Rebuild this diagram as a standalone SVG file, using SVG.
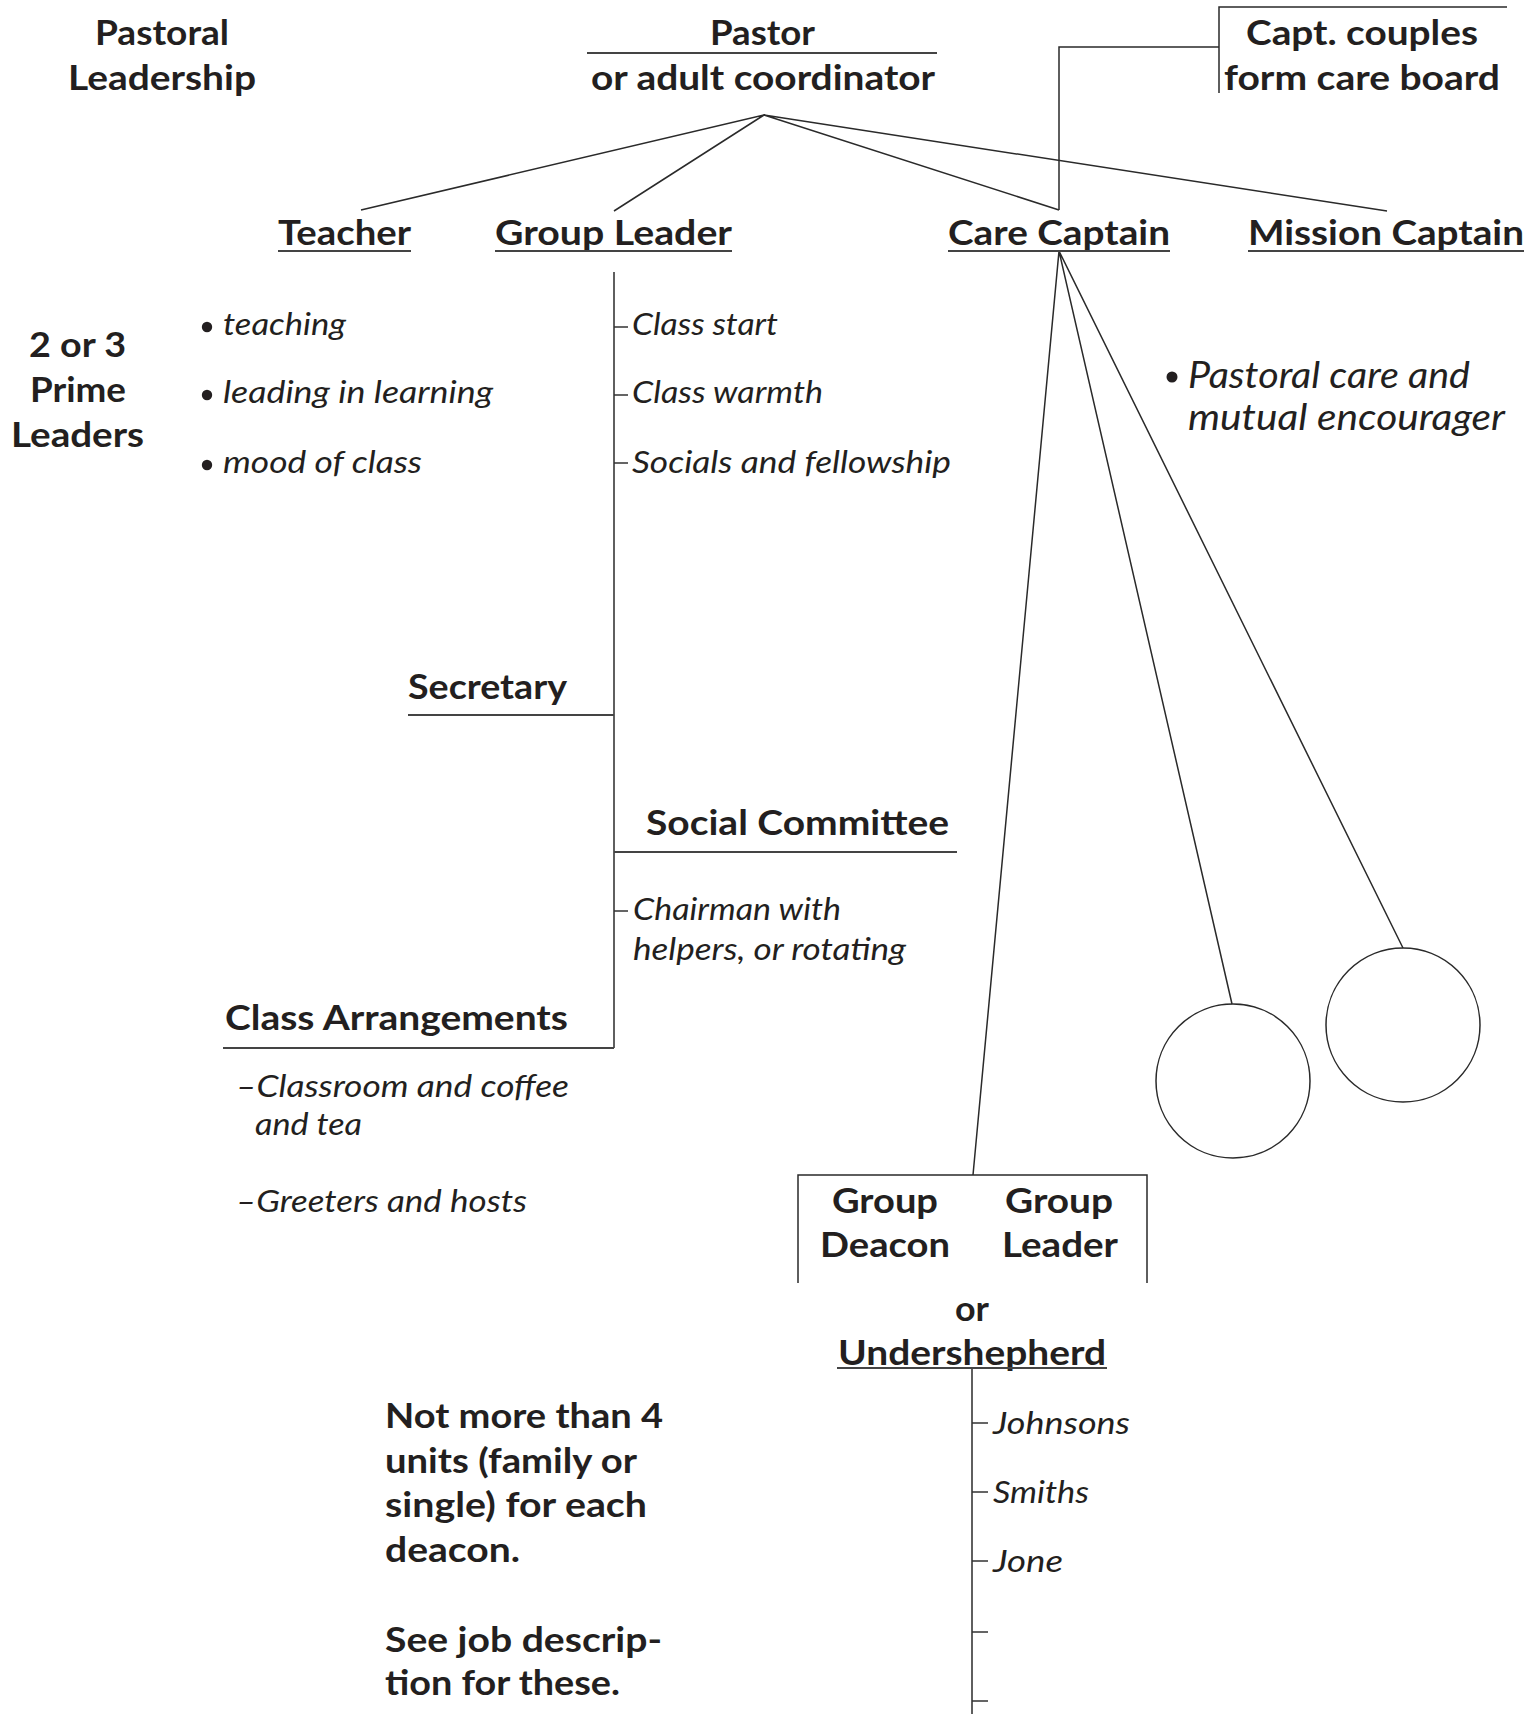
<svg xmlns="http://www.w3.org/2000/svg" width="1530" height="1714" viewBox="0 0 1530 1714">
<style>
text{fill:#231f20;font-family:Lato,"Open Sans","Noto Sans",sans-serif}
.b{font-weight:700;font-size:34px}
.bm{font-weight:700;font-size:34px}
.i{font-style:italic;font-weight:400;font-size:31px}
.il{font-style:italic;font-weight:400;font-size:36px}
.c{text-anchor:middle}
.ln{stroke:#2a2a2a;stroke-width:1.5;fill:none}
.ul{stroke:#444;stroke-width:2;fill:none}
.tk{stroke:#333;stroke-width:1.5}
.dot{fill:#231f20}
</style>
<rect width="1530" height="1714" fill="#fff"/>
<g id="connectors">
<path class="ln" d="M764,115 L361,210 M764,115 L614,211 M764,115 L1059,210 M764,115 L1387,211"/>
<path class="ln" d="M1059,210 V47 H1219 M1219,93 V7 H1507"/>
<path class="ln" d="M1059,251 L973,1175 M1059,251 L1232,1004 M1059,251 L1403,948"/>
<path class="ln" d="M614,272 V1048"/>
<path class="ln" d="M972,1368 V1714"/>
<path class="tk" d="M614,327 H628 M614,395 H628 M614,463 H628 M614,911 H628"/>
<path class="tk" d="M972,1423 H988 M972,1492 H988 M972,1561 H988 M972,1632 H988 M972,1701 H988"/>
</g>
<g id="pastoral-leadership">
<text class="b" x="95" y="45" textLength="134" lengthAdjust="spacingAndGlyphs">Pastoral</text>
<text class="b" x="68" y="90" textLength="188" lengthAdjust="spacingAndGlyphs">Leadership</text>
</g>
<g id="pastor">
<text class="b" x="710" y="45" textLength="105" lengthAdjust="spacingAndGlyphs">Pastor</text>
<line class="ul" x1="587" y1="53" x2="937" y2="53"/>
<text class="b" x="591" y="90" textLength="344" lengthAdjust="spacingAndGlyphs">or adult coordinator</text>
</g>
<g id="care-board">
<text class="b" x="1246" y="45" textLength="232" lengthAdjust="spacingAndGlyphs">Capt. couples</text>
<text class="b" x="1224" y="90" textLength="276" lengthAdjust="spacingAndGlyphs">form care board</text>
</g>
<g id="teacher">
<text class="b" x="278" y="245" textLength="133" lengthAdjust="spacingAndGlyphs">Teacher</text>
<line class="ul" x1="278" y1="251" x2="411" y2="251"/>
<circle class="dot" cx="207" cy="327" r="5.2"/>
<text class="i" x="223" y="335" textLength="123" lengthAdjust="spacingAndGlyphs">teaching</text>
<circle class="dot" cx="207" cy="395" r="5.2"/>
<text class="i" x="223" y="403" textLength="270" lengthAdjust="spacingAndGlyphs">leading in learning</text>
<circle class="dot" cx="207" cy="465" r="5.2"/>
<text class="i" x="223" y="473" textLength="199" lengthAdjust="spacingAndGlyphs">mood of class</text>
</g>
<g id="prime-leaders">
<text class="b" x="29" y="357" textLength="97" lengthAdjust="spacingAndGlyphs">2 or 3</text>
<text class="b" x="30" y="402" textLength="96" lengthAdjust="spacingAndGlyphs">Prime</text>
<text class="b" x="11" y="447" textLength="133" lengthAdjust="spacingAndGlyphs">Leaders</text>
</g>
<g id="group-leader">
<text class="b" x="495" y="245" textLength="237" lengthAdjust="spacingAndGlyphs">Group Leader</text>
<line class="ul" x1="495" y1="251" x2="732" y2="251"/>
<text class="i" x="632" y="335" textLength="146" lengthAdjust="spacingAndGlyphs">Class start</text>
<text class="i" x="632" y="403" textLength="191" lengthAdjust="spacingAndGlyphs">Class warmth</text>
<text class="i" x="632" y="473" textLength="319" lengthAdjust="spacingAndGlyphs">Socials and fellowship</text>
</g>
<g id="care-captain">
<text class="b" x="948" y="245" textLength="222" lengthAdjust="spacingAndGlyphs">Care Captain</text>
<line class="ul" x1="948" y1="251" x2="1170" y2="251"/>
<circle class="dot" cx="1172" cy="377" r="5.5"/>
<text class="il" x="1188" y="388" textLength="282" lengthAdjust="spacingAndGlyphs">Pastoral care and</text>
<text class="il" x="1188" y="430" textLength="317" lengthAdjust="spacingAndGlyphs">mutual encourager</text>
</g>
<g id="mission-captain">
<text class="b" x="1248" y="245" textLength="276" lengthAdjust="spacingAndGlyphs">Mission Captain</text>
<line class="ul" x1="1248" y1="251" x2="1524" y2="251"/>
</g>
<g id="secretary">
<text class="b" x="408" y="699" textLength="159" lengthAdjust="spacingAndGlyphs">Secretary</text>
<line class="ul" x1="408" y1="715" x2="614" y2="715"/>
</g>
<g id="social-committee">
<text class="b" x="646" y="835" textLength="303" lengthAdjust="spacingAndGlyphs">Social Committee</text>
<line class="ul" x1="614" y1="852" x2="957" y2="852"/>
<text class="i" x="633" y="920" textLength="208" lengthAdjust="spacingAndGlyphs">Chairman with</text>
<text class="i" x="633" y="960" textLength="273" lengthAdjust="spacingAndGlyphs">helpers, or rotating</text>
</g>
<g id="class-arrangements">
<text class="b" x="225" y="1030" textLength="343" lengthAdjust="spacingAndGlyphs">Class Arrangements</text>
<line class="ul" x1="223" y1="1048" x2="614" y2="1048"/>
<text class="i" x="236" y="1097" textLength="333" lengthAdjust="spacingAndGlyphs">–Classroom and coffee</text>
<text class="i" x="255" y="1135" textLength="107" lengthAdjust="spacingAndGlyphs">and tea</text>
<text class="i" x="236" y="1212" textLength="291" lengthAdjust="spacingAndGlyphs">–Greeters and hosts</text>
</g>
<g id="circle-1"><circle class="ln" cx="1233" cy="1081" r="77"/></g>
<g id="circle-2"><circle class="ln" cx="1403" cy="1025" r="77"/></g>
<g id="group-deacon-leader">
<path class="ln" d="M798,1283 V1175 H1147 V1283"/>
<text class="bm" x="832" y="1213" textLength="106" lengthAdjust="spacingAndGlyphs">Group</text>
<text class="bm" x="820" y="1257" textLength="130" lengthAdjust="spacingAndGlyphs">Deacon</text>
<text class="bm" x="1005" y="1213" textLength="108" lengthAdjust="spacingAndGlyphs">Group</text>
<text class="bm" x="1002" y="1257" textLength="116" lengthAdjust="spacingAndGlyphs">Leader</text>
<text class="bm" x="955" y="1321" textLength="34" lengthAdjust="spacingAndGlyphs">or</text>
<text class="bm" x="838" y="1365" textLength="268" lengthAdjust="spacingAndGlyphs">Undershepherd</text>
<line class="ul" x1="837" y1="1368" x2="1107" y2="1368"/>
</g>
<g id="families">
<text class="i" x="993" y="1434" textLength="137" lengthAdjust="spacingAndGlyphs">Johnsons</text>
<text class="i" x="993" y="1503" textLength="96" lengthAdjust="spacingAndGlyphs">Smiths</text>
<text class="i" x="993" y="1572" textLength="70" lengthAdjust="spacingAndGlyphs">Jone</text>
</g>
<g id="note">
<text class="bm" x="385" y="1428" textLength="278" lengthAdjust="spacingAndGlyphs">Not more than 4</text>
<text class="bm" x="385" y="1473" textLength="252" lengthAdjust="spacingAndGlyphs">units (family or</text>
<text class="bm" x="385" y="1517" textLength="262" lengthAdjust="spacingAndGlyphs">single) for each</text>
<text class="bm" x="385" y="1562" textLength="135" lengthAdjust="spacingAndGlyphs">deacon.</text>
<text class="bm" x="385" y="1652" textLength="277" lengthAdjust="spacingAndGlyphs">See job descrip-</text>
<text class="bm" x="385" y="1695" textLength="235" lengthAdjust="spacingAndGlyphs">tion for these.</text>
</g>
</svg>
